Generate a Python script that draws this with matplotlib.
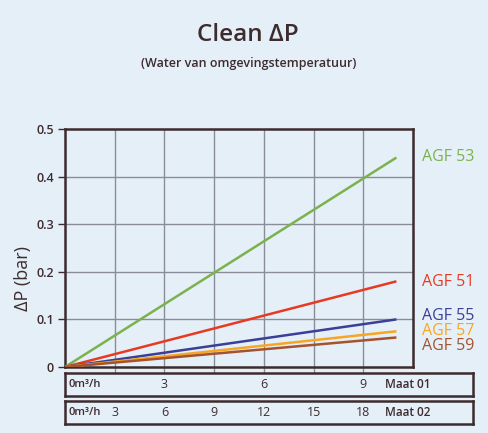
import matplotlib
matplotlib.use("Agg")
import matplotlib.pyplot as plt

# ---------------- data ----------------
flow_maat02 = [0, 20]          # m3/h (Maat 02 scale); Maat 01 = half
series_names = ["AGF 53", "AGF 51", "AGF 55", "AGF 57", "AGF 59"]
agf53 = [0, 0.44]
agf51 = [0, 0.18]
agf55 = [0, 0.10]
agf57 = [0, 0.075]
agf59 = [0, 0.062]
y_ticks = [0, 0.1, 0.2, 0.3, 0.4, 0.5]
y_ticklabels = ["0", "0.1", "0.2", "0.3", "0.4", "0.5"]
maat01_ticks = [3, 6, 9]
maat02_ticks = [3, 6, 9, 12, 15, 18]

# ---------------- style ----------------
W, H = 488, 433
bg = "#e5eff8"
dark = "#3d2c2e"
gridc = "#8a8c9a"
colors = ["#7cb24e", "#e83a22", "#3b3f96", "#f7a623", "#a4532e"]
label_y = [0.441, 0.179, 0.107, 0.076, 0.045]
plt.rcParams["font.family"] = ["Open Sans", "DejaVu Sans"]

fig = plt.figure(figsize=(W / 100, H / 100), dpi=100, facecolor=bg)

def px_axes(x0, y0, x1, y1):
    return fig.add_axes([x0 / W, 1 - y1 / H, (x1 - x0) / W, (y1 - y0) / H])

ax_l, ax_r, ax_t, ax_b = 65, 413, 129, 367
ax = px_axes(ax_l, ax_t, ax_r, ax_b)
ax.set_facecolor(bg)
xmax = 21
ax.set_xlim(0, xmax)
ax.set_ylim(0, 0.5)

for v in range(3, 21, 3):
    ax.axvline(v, color=gridc, lw=1.0, zorder=1)
for v in y_ticks[1:-1]:
    ax.axhline(v, color=gridc, lw=1.0, zorder=1)

series = [agf53, agf51, agf55, agf57, agf59]
for name, vals, c, ly in zip(series_names, series, colors, label_y):
    ax.plot(flow_maat02, vals, color=c, lw=1.8, zorder=3, solid_capstyle="butt")
    ax.text(21.55, ly, name, color=c, fontsize=11.5, va="center", ha="left",
            clip_on=False)

for s in ax.spines.values():
    s.set_color(dark)
    s.set_linewidth(1.8)

ax.set_yticks(y_ticks)
ax.set_yticklabels(y_ticklabels, fontsize=9, color=dark, fontweight="semibold")
ax.tick_params(axis="y", length=5, width=1, color=dark, pad=3)
ax.set_xticks(list(range(3, 21, 3)))
ax.set_xticklabels([])
ax.tick_params(axis="x", length=4, width=1, color=gridc, direction="out")
ax.text(-0.12, 0.37, "ΔP (bar)", transform=ax.transAxes, rotation=90,
        fontsize=13, color=dark, ha="center", va="center")

# title
fig.text(248 / W, 1 - 35 / H, "Clean ΔP", fontsize=17.5, color=dark,
         ha="center", va="center", fontweight="semibold")
fig.text(249 / W, 1 - 63 / H, "(Water van omgevingstemperatuur)", fontsize=9,
         color=dark, ha="center", va="center", fontweight="semibold")

# bottom scale boxes
box_l, box_r = 65, 473
bx_max = xmax * (box_r - box_l) / (ax_r - ax_l)
for (y0, y1), ticks, factor, lab in [((373, 396), maat01_ticks, 2, "Maat 01"),
                                      ((401, 424), maat02_ticks, 1, "Maat 02")]:
    bax = px_axes(box_l, y0, box_r, y1)
    bax.set_facecolor(bg)
    bax.set_xlim(0, bx_max)
    bax.set_ylim(0, 1)
    bax.set_xticks([])
    bax.set_yticks([])
    for s in bax.spines.values():
        s.set_color(dark)
        s.set_linewidth(1.8)
    bax.text(0.2, 0.5, "0m³/h", fontsize=8, color=dark, va="center", ha="left",
             fontweight="semibold")
    for t in ticks:
        bax.text(t * factor, 0.5, str(t), fontsize=9, color=dark,
                 va="center", ha="center")
    bax.text(19.3, 0.5, lab, fontsize=8.5, color=dark, va="center", ha="left",
             fontweight="semibold")

fig.savefig("out.png", dpi=100, facecolor=bg)
